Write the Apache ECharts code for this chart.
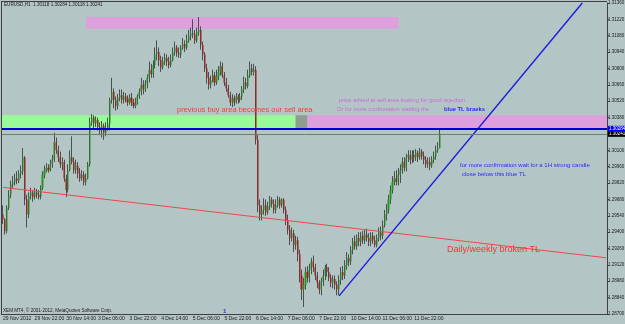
<!DOCTYPE html>
<html>
<head>
<meta charset="UTF-8">
<title>EURUSD,H1</title>
<script src="https://cdn.jsdelivr.net/npm/echarts@6/dist/echarts.min.js"></script>
<style>
  html, body { margin: 0; padding: 0; }
  #chart { width: 625px; height: 324px; }
</style>
</head>
<body>
<div id="chart"></div>
<script type="text/javascript">
// hourly bars, [open, close, low, high]
var ohlc = [
  [1.2955,1.2951,1.2947,1.2963],[1.2951,1.2941,1.2938,1.2952],[1.2941,1.2961,1.2939,1.2963],[1.2961,1.2972,1.2959,1.2976],
  [1.2972,1.2981,1.2969,1.2984],[1.2981,1.2983,1.2978,1.2988],[1.2983,1.2986,1.2980,1.2990],[1.2986,1.2984,1.2981,1.2992],
  [1.2984,1.2990,1.2982,1.2993],[1.2990,1.2992,1.2986,1.2997],[1.2992,1.3004,1.2989,1.3012],[1.3004,1.2968,1.2963,1.3005],
  [1.2968,1.2955,1.2944,1.2972],[1.2955,1.2971,1.2952,1.2974],[1.2971,1.2974,1.2968,1.2978],[1.2974,1.2970,1.2966,1.2976],
  [1.2970,1.2974,1.2968,1.2978],[1.2974,1.2972,1.2969,1.2977],[1.2972,1.2970,1.2968,1.2976],[1.2970,1.2978,1.2968,1.2980],
  [1.2978,1.2989,1.2976,1.2992],[1.2989,1.2993,1.2986,1.2997],[1.2993,1.2995,1.2991,1.2999],[1.2995,1.2993,1.2991,1.2998],
  [1.2993,1.2998,1.2992,1.3002],[1.2998,1.3002,1.2995,1.3006],[1.3002,1.3017,1.3000,1.3025],[1.3017,1.3010,1.3007,1.3021],
  [1.3010,1.3004,1.3000,1.3014],[1.3004,1.2998,1.2995,1.3009],[1.2998,1.3000,1.2993,1.3004],[1.3000,1.2986,1.2983,1.3002],
  [1.2986,1.2976,1.2970,1.2989],[1.2976,1.2993,1.2974,1.2998],[1.2993,1.3004,1.2992,1.3010],[1.3004,1.3000,1.2998,1.3022],
  [1.3000,1.2993,1.2990,1.3004],[1.2993,1.2997,1.2990,1.3002],[1.2997,1.2990,1.2986,1.3000],[1.2990,1.2986,1.2983,1.2995],
  [1.2986,1.2989,1.2984,1.2993],[1.2989,1.2983,1.2980,1.2992],[1.2983,1.2986,1.2980,1.2990],[1.2986,1.2998,1.2985,1.3000],
  [1.2998,1.3034,1.2996,1.3038],[1.3034,1.3038,1.3031,1.3041],[1.3038,1.3033,1.3029,1.3040],[1.3033,1.3036,1.3030,1.3039],
  [1.3036,1.3030,1.3027,1.3038],[1.3030,1.3027,1.3023,1.3034],[1.3027,1.3031,1.3021,1.3035],[1.3031,1.3025,1.3019,1.3033],
  [1.3025,1.3029,1.3022,1.3034],[1.3029,1.3033,1.3027,1.3038],[1.3033,1.3053,1.3027,1.3055],[1.3053,1.3060,1.3050,1.3072],
  [1.3060,1.3053,1.3046,1.3063],[1.3053,1.3048,1.3044,1.3056],[1.3048,1.3055,1.3045,1.3058],[1.3055,1.3057,1.3052,1.3062],
  [1.3057,1.3053,1.3050,1.3062],[1.3053,1.3056,1.3050,1.3060],[1.3056,1.3054,1.3051,1.3059],[1.3054,1.3051,1.3048,1.3057],
  [1.3051,1.3055,1.3049,1.3058],[1.3055,1.3051,1.3048,1.3059],[1.3051,1.3048,1.3046,1.3054],[1.3048,1.3050,1.3046,1.3055],
  [1.3050,1.3056,1.3049,1.3058],[1.3056,1.3060,1.3054,1.3063],[1.3060,1.3066,1.3057,1.3072],[1.3066,1.3062,1.3058,1.3070],
  [1.3062,1.3067,1.3060,1.3070],[1.3067,1.3072,1.3063,1.3075],[1.3072,1.3079,1.3068,1.3086],[1.3079,1.3075,1.3072,1.3084],
  [1.3075,1.3083,1.3072,1.3087],[1.3083,1.3092,1.3080,1.3098],[1.3092,1.3094,1.3087,1.3104],[1.3094,1.3087,1.3082,1.3098],
  [1.3087,1.3081,1.3077,1.3091],[1.3081,1.3086,1.3079,1.3090],[1.3086,1.3089,1.3083,1.3093],[1.3089,1.3086,1.3082,1.3092],
  [1.3086,1.3083,1.3080,1.3090],[1.3083,1.3087,1.3081,1.3092],[1.3087,1.3094,1.3086,1.3098],[1.3094,1.3098,1.3091,1.3103],
  [1.3098,1.3093,1.3090,1.3100],[1.3093,1.3092,1.3089,1.3098],[1.3092,1.3098,1.3089,1.3100],[1.3098,1.3101,1.3096,1.3106],
  [1.3101,1.3098,1.3094,1.3104],[1.3098,1.3104,1.3096,1.3109],[1.3104,1.3108,1.3102,1.3113],[1.3108,1.3110,1.3104,1.3115],
  [1.3110,1.3109,1.3106,1.3122],[1.3109,1.3104,1.3101,1.3113],[1.3104,1.3111,1.3102,1.3115],[1.3111,1.3113,1.3108,1.3124],
  [1.3113,1.3100,1.3096,1.3116],[1.3100,1.3092,1.3087,1.3103],[1.3092,1.3080,1.3077,1.3094],[1.3080,1.3072,1.3067,1.3084],
  [1.3072,1.3066,1.3062,1.3077],[1.3066,1.3070,1.3063,1.3074],[1.3070,1.3074,1.3068,1.3079],[1.3074,1.3068,1.3065,1.3077],
  [1.3068,1.3073,1.3066,1.3079],[1.3073,1.3077,1.3070,1.3082],[1.3077,1.3082,1.3074,1.3086],[1.3082,1.3074,1.3072,1.3085],
  [1.3074,1.3068,1.3065,1.3077],[1.3068,1.3063,1.3060,1.3072],[1.3063,1.3057,1.3055,1.3066],[1.3057,1.3051,1.3048,1.3060],
  [1.3051,1.3055,1.3047,1.3058],[1.3055,1.3051,1.3048,1.3057],[1.3051,1.3056,1.3050,1.3059],[1.3056,1.3053,1.3050,1.3058],
  [1.3053,1.3056,1.3051,1.3059],[1.3056,1.3062,1.3053,1.3065],[1.3062,1.3068,1.3059,1.3073],[1.3068,1.3065,1.3062,1.3072],
  [1.3065,1.3074,1.3063,1.3079],[1.3074,1.3080,1.3072,1.3086],[1.3080,1.3077,1.3074,1.3084],[1.3077,1.3079,1.3074,1.3084],
  [1.3079,1.3019,1.3015,1.3082],[1.3019,1.2963,1.2957,1.3023],[1.2963,1.2955,1.2950,1.2968],[1.2955,1.2959,1.2950,1.2963],
  [1.2959,1.2963,1.2955,1.2969],[1.2963,1.2957,1.2954,1.2968],[1.2957,1.2962,1.2955,1.2966],[1.2962,1.2968,1.2959,1.2971],
  [1.2968,1.2964,1.2961,1.2970],[1.2964,1.2959,1.2956,1.2968],[1.2959,1.2963,1.2956,1.2968],[1.2963,1.2968,1.2961,1.2971],
  [1.2968,1.2963,1.2960,1.2970],[1.2963,1.2968,1.2961,1.2969],[1.2968,1.2959,1.2956,1.2969],[1.2959,1.2950,1.2946,1.2962],
  [1.2950,1.2942,1.2938,1.2955],[1.2942,1.2935,1.2929,1.2946],[1.2935,1.2939,1.2932,1.2944],[1.2939,1.2929,1.2923,1.2942],
  [1.2929,1.2933,1.2925,1.2937],[1.2933,1.2921,1.2915,1.2936],[1.2921,1.2903,1.2897,1.2925],[1.2903,1.2891,1.2882,1.2908],
  [1.2891,1.2895,1.2876,1.2901],[1.2895,1.2906,1.2891,1.2910],[1.2906,1.2901,1.2897,1.2911],[1.2901,1.2908,1.2897,1.2913],
  [1.2908,1.2915,1.2904,1.2918],[1.2915,1.2910,1.2906,1.2920],[1.2910,1.2903,1.2899,1.2913],[1.2903,1.2897,1.2892,1.2906],
  [1.2897,1.2891,1.2887,1.2899],[1.2891,1.2898,1.2886,1.2901],[1.2898,1.2903,1.2894,1.2908],[1.2903,1.2910,1.2899,1.2912],
  [1.2910,1.2906,1.2902,1.2913],[1.2906,1.2901,1.2898,1.2910],[1.2901,1.2897,1.2893,1.2904],[1.2897,1.2900,1.2892,1.2903],
  [1.2900,1.2895,1.2891,1.2903],[1.2895,1.2891,1.2886,1.2898],[1.2891,1.2899,1.2886,1.2903],[1.2899,1.2906,1.2895,1.2910],
  [1.2906,1.2903,1.2899,1.2911],[1.2903,1.2912,1.2900,1.2916],[1.2912,1.2918,1.2908,1.2923],[1.2918,1.2915,1.2911,1.2921],
  [1.2915,1.2925,1.2912,1.2928],[1.2925,1.2932,1.2921,1.2935],[1.2932,1.2928,1.2925,1.2937],[1.2928,1.2935,1.2925,1.2938],
  [1.2935,1.2932,1.2928,1.2940],[1.2932,1.2937,1.2928,1.2940],[1.2937,1.2933,1.2930,1.2941],[1.2933,1.2938,1.2930,1.2942],
  [1.2938,1.2935,1.2932,1.2943],[1.2935,1.2932,1.2928,1.2939],[1.2932,1.2937,1.2928,1.2940],[1.2937,1.2933,1.2930,1.2940],
  [1.2933,1.2929,1.2927,1.2937],[1.2929,1.2935,1.2927,1.2938],[1.2935,1.2940,1.2932,1.2944],[1.2940,1.2937,1.2933,1.2945],
  [1.2937,1.2946,1.2934,1.2950],[1.2946,1.2955,1.2944,1.2959],[1.2955,1.2959,1.2950,1.2964],[1.2959,1.2968,1.2956,1.2972],
  [1.2968,1.2976,1.2964,1.2980],[1.2976,1.2983,1.2973,1.2988],[1.2983,1.2986,1.2980,1.2992],[1.2986,1.2983,1.2980,1.2993],
  [1.2983,1.2989,1.2980,1.2995],[1.2989,1.2993,1.2982,1.2998],[1.2993,1.3000,1.2990,1.3004],[1.3000,1.2995,1.2992,1.3004],
  [1.2995,1.3004,1.2992,1.3007],[1.3004,1.3006,1.3000,1.3010],[1.3006,1.3002,1.2998,1.3010],[1.3002,1.3006,1.2999,1.3010],
  [1.3006,1.3004,1.3000,1.3010],[1.3004,1.3008,1.3001,1.3011],[1.3008,1.3004,1.3000,1.3010],[1.3004,1.3009,1.3002,1.3012],
  [1.3009,1.3005,1.3002,1.3011],[1.3005,1.3002,1.2998,1.3009],[1.3002,1.2998,1.2995,1.3005],[1.2998,1.3000,1.2995,1.3004],
  [1.3000,1.2997,1.2993,1.3004],[1.2997,1.3002,1.2995,1.3005],[1.3002,1.3005,1.2999,1.3009],[1.3005,1.3010,1.3002,1.3014],
  [1.3010,1.3012,1.3008,1.3017],[1.30118,1.30241,1.30118,1.30284]
];

var barCount = 306;                 // bars across the window, incl. empty shift area
var labelEvery = 16;
var firstLabel = '29 Nov 2012';
var months = ['Jan','Feb','Mar','Apr','May','Jun','Jul','Aug','Sep','Oct','Nov','Dec'];

// price scale
var yMin = 1.28700, yMax = 1.31360, yStep = 0.00140;

// lines: [barIndex, price]
var redTL = [[0, 1.29783], [305, 1.29181]];
var blueTL = [[170, 1.28855], [293, 1.31360]];
var levelLine = 1.30284;
var bidLine = 1.30241;

// zones: [fromBar, toBar, priceTop, priceBottom]; null = window edge
var greenZone = [null, 148, 1.3040, 1.3029];
var greyZone = [148, 154, 1.3040, 1.3029];
var pinkZone = [154, null, 1.3040, 1.3029];
var topZone = [42, 200, 1.3124, 1.3114];

// hourly categories, weekends skipped
var cats = [];
var t = Date.UTC(2012, 10, 29, 6);
while (cats.length < barCount) {
  var d = new Date(t);
  var wd = d.getUTCDay();
  if (wd !== 0 && wd !== 6) {
    var h = d.getUTCHours();
    cats.push(d.getUTCDate() + ' ' + months[d.getUTCMonth()] + ' ' + (h < 10 ? '0' : '') + h + ':00');
  }
  t += 3600000;
}

var bodies = ohlc.map(function (r) {
  return [r[0], r[1], Math.min(r[0], r[1]), Math.max(r[0], r[1])];
});

// time labels only under real bars
function showTime(i) { return i % labelEvery === 0 && i < ohlc.length; }

function zone(z, color) {
  var a = { yAxis: z[2] }, b = { yAxis: z[3] };
  if (z[0] !== null) a.xAxis = z[0];
  if (z[1] !== null) b.xAxis = z[1];
  return [Object.assign(a, { itemStyle: { color: color } }), b];
}

var FONT = 'Liberation Sans';
function txt(x, y, s, color, size, weight) {
  return {
    type: 'text', x: x, y: y, z: 100, silent: true,
    style: { text: s, fill: color, fontSize: size, fontFamily: FONT,
             fontWeight: weight || 'normal', verticalAlign: 'middle' }
  };
}

var chart = echarts.init(document.getElementById('chart'));
chart.setOption({
  animation: false,
  backgroundColor: '#b4c5c5',
  grid: { left: 2, right: 18, top: 3, bottom: 10, containLabel: false, outerBoundsMode: 'none' },
  xAxis: {
    type: 'category',
    data: cats,
    boundaryGap: true,
    axisLine: { lineStyle: { color: '#404040', width: 1 } },
    axisTick: { interval: showTime, alignWithLabel: true, length: 3, lineStyle: { color: '#404040' } },
    axisLabel: {
      interval: showTime, fontSize: 5, fontFamily: FONT, color: '#1a1a1a', align: 'left', margin: 2,
      formatter: function (v, i) { return i === 0 ? firstLabel : v; }
    },
    splitLine: { show: false }
  },
  yAxis: {
    type: 'value',
    position: 'right',
    min: yMin, max: yMax, interval: yStep,
    axisLine: { show: true, lineStyle: { color: '#404040', width: 1 } },
    axisTick: { show: true, length: 2, lineStyle: { color: '#404040' } },
    axisLabel: {
      fontSize: 4.5, fontFamily: FONT, color: '#1a1a1a', margin: 1,
      formatter: function (v) { return v.toFixed(5); }
    },
    splitLine: { show: false }
  },
  series: [
    {
      name: 'wicks',
      type: 'candlestick',
      data: ohlc,
      barWidth: 0.8,
      itemStyle: { color: '#4a4f4f', color0: '#4a4f4f', borderColor: '#4a4f4f', borderColor0: '#4a4f4f', borderWidth: 1 },
      markArea: {
        silent: true,
        data: [
          zone(greenZone, '#98fb98'),
          zone(greyZone, '#8f9c90'),
          zone(pinkZone, '#dda0dd'),
          zone(topZone, '#dda0dd')
        ]
      }
    },
    {
      name: 'bodies',
      type: 'candlestick',
      data: bodies,
      barWidth: 1.6,
      itemStyle: { color: '#239623', color0: '#b01515', borderColor: '#239623', borderColor0: '#b01515', borderWidth: 0 }
    },
    {
      name: 'redTL',
      type: 'line',
      data: redTL,
      symbol: 'none',
      lineStyle: { color: '#f04848', width: 1 },
      z: 4
    },
    {
      name: 'blueTL',
      type: 'line',
      data: blueTL,
      symbol: 'none',
      lineStyle: { color: '#1c1ce0', width: 1.4 },
      z: 4,
      markLine: {
        silent: true,
        symbol: 'none',
        precision: 5,
        data: [
          {
            yAxis: bidLine,
            lineStyle: { color: '#707c7c', width: 1, type: 'solid' },
            label: { show: true, position: 'end', distance: 1, formatter: bidLine.toFixed(5),
                     backgroundColor: '#000', color: '#fff', fontSize: 4.5, fontFamily: FONT, padding: [1, 1, 0, 1] }
          },
          {
            yAxis: levelLine,
            lineStyle: { color: '#0000d0', width: 2, type: 'solid' },
            label: { show: true, position: 'end', distance: 1, formatter: levelLine.toFixed(5),
                     backgroundColor: '#0000ff', color: '#fff', fontSize: 4.5, fontFamily: FONT, padding: [1, 1, 0, 1] }
          }
        ]
      }
    }
  ],
  graphic: [
    { type: 'line', z: 100, silent: true, shape: { x1: 1.5, y1: 1, x2: 1.5, y2: 315 }, style: { stroke: '#404040', lineWidth: 1 } },
    { type: 'line', z: 100, silent: true, shape: { x1: 1, y1: 1.5, x2: 607, y2: 1.5 }, style: { stroke: '#404040', lineWidth: 1 } },
    txt(4, 5, 'EURUSD,H1  1.30118 1.30284 1.30118 1.30241', '#1a1a1a', 4.6),
    txt(3, 311, 'XEM MT4, \u00a9 2001-2012, MetaQuotes Software Corp.', '#1a1a1a', 4.6),
    txt(223, 311, '1', '#3030ff', 6, 'bold'),
    txt(177, 110, 'previous buy area becomes our sell area', '#ff3838', 7.5),
    txt(339, 100, 'price arived at sell area looking for good rejection', '#c86ad8', 5.8),
    txt(337, 109, 'Or for more confirmation waiting the', '#c86ad8', 5.8),
    txt(444, 109, 'blue TL braeks', '#2a2aff', 5.8, 'bold'),
    txt(460, 165, 'for more confirmation wait for a 1H strong candle', '#2a2aff', 6),
    txt(462, 174, 'close below this blue TL', '#2a2aff', 6),
    txt(447, 250, 'Daily/weekly broken TL', '#ff3030', 9)
  ]
});
</script>
</body>
</html>
